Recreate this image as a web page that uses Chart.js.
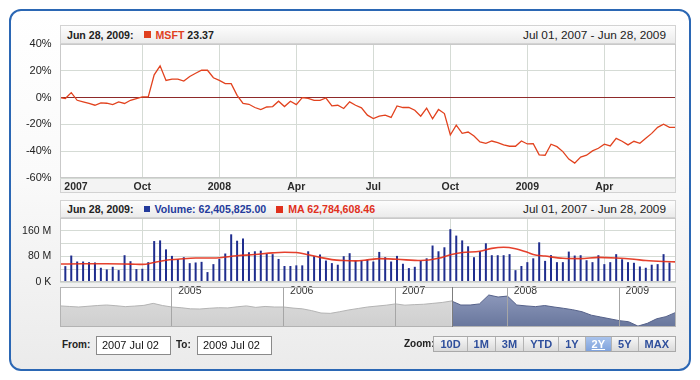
<!DOCTYPE html>
<html>
<head>
<meta charset="utf-8">
<script src="https://cdn.jsdelivr.net/npm/chart.js@4.4.1/dist/chart.umd.min.js"></script>
<style>
html,body{margin:0;padding:0;}
body{width:700px;height:380px;position:relative;overflow:hidden;background:#fff;font-family:"Liberation Sans",Arial,sans-serif;color:#222;}
#frame{position:absolute;left:9px;top:9px;width:682px;height:362px;box-sizing:border-box;border:2px solid #2b67b4;border-radius:12px;background:linear-gradient(#ffffff 0%,#fafafa 45%,#ebebeb 100%);}
canvas{position:absolute;left:0;}
.hdr{position:absolute;left:60px;width:616px;height:19px;box-sizing:border-box;border:1px solid #d3d3d3;background:linear-gradient(#fdfdfd,#ebebeb);display:flex;align-items:center;justify-content:space-between;padding:0 9px 0 6px;white-space:nowrap;}
.hdr .l{font-weight:bold;font-size:10.6px;display:flex;align-items:center;}
.hdr .r{font-size:11.8px;color:#222;}
.sq{display:inline-block;width:7px;height:7px;margin:0 5px 0 10px;}
.lbl{position:absolute;font-weight:bold;font-size:10px;color:#222;}
.box{position:absolute;top:336px;width:75px;height:19px;box-sizing:border-box;border:1px solid #8a8a8a;background:#fff;font-size:11px;line-height:17px;padding-left:5px;color:#111;}
#zoomBtns{position:absolute;right:24px;top:336px;height:16px;display:flex;box-sizing:border-box;border:1px solid #a9a9a9;}
#zoomBtns div{font-weight:bold;font-size:11px;line-height:14px;color:#2f4f9c;padding:0 6px;background:linear-gradient(#f7f7f7,#dadada);border-left:1px solid #b3b3b3;}
#zoomBtns div:first-child{border-left:none;}
#zoomBtns div.sel{background:linear-gradient(#a9c3ec,#7fa2dc);color:#fff;text-decoration:underline;}
</style>
</head>
<body>
<div id="frame"></div>

<div class="hdr" style="top:25px;">
  <span class="l"><span id="mDate"></span><i class="sq" style="background:#e0401e"></i><span style="color:#e0401e">MSFT</span>&nbsp;<span id="mVal"></span></span>
  <span class="r" id="mRange"></span>
</div>
<canvas id="mainChart" width="700" height="167" style="top:29px"></canvas>

<div class="hdr" style="top:200px;height:18px;">
  <span class="l"><span id="vDate"></span><i class="sq" style="background:#243b9c;width:6px;height:6px;"></i><span style="color:#243b9c" id="vVal"></span><i class="sq" style="background:#e0301c;"></i><span style="color:#e0301c" id="maVal"></span></span>
  <span class="r" id="vRange"></span>
</div>
<canvas id="volChart" width="700" height="94" style="top:203px"></canvas>
<canvas id="navChart" width="700" height="44" style="top:285px"></canvas>

<span class="lbl" style="left:62px;top:339px;">From:</span>
<div class="box" style="left:96px;" id="fromBox"></div>
<span class="lbl" style="left:176px;top:339px;">To:</span>
<div class="box" style="left:197px;" id="toBox"></div>
<span class="lbl" style="left:404px;top:338px;">Zoom:</span>
<div id="zoomBtns"></div>

<script>
// ---------------- DATA ----------------
const lastDateText = 'Jun 28, 2009:';
const rangeText = 'Jul 01, 2007 - Jun 28, 2009';
const lastClose = '23.37';
const lastVolume = '62,405,825.00';
const lastMA = '62,784,608.46';
const fromText = '2007 Jul 02';
const toText = '2009 Jul 02';
const zoomLabels = ['10D','1M','3M','YTD','1Y','2Y','5Y','MAX'];
const zoomSelected = '2Y';

// weekly points from Jul 01, 2007 to Jun 28, 2009 (% change)
const pctChange = [
  0, -0.7, 3.7, -2, -3.2, -4.4, -5.7, -4, -4.2, -5.2,
  -3.2, -4.4, -2, -0.7, 0.5, 0.5, 17, 23.7, 12.8, 13.8,
  13.8, 12.3, 15.8, 18.2, 20.4, 20.4, 14.8, 12.8, 10.4, 10.4,
  1.7, -4.4, -5, -7.4, -8.9, -7, -6.7, -2.7, -6.7, -2.7,
  -5.2, 0, -0.5, -2, -2, -0.3, -6.2, -5.7, -8.1, -3.2,
  -5.7, -7.6, -13.1, -15.6, -13.9, -13.1, -14.8, -6.2, -7.4, -7.4,
  -9.4, -13.9, -7.9, -15.8, -8.9, -11.9, -27.9, -20.5, -26.7, -25.7,
  -28.7, -33.1, -34.1, -32.4, -33.6, -35.3, -36.3, -36.3, -32.4, -34.6,
  -34.4, -42.7, -43, -34.8, -36.6, -40.3, -45.9, -48.9, -44.4, -43,
  -39.8, -37.8, -34.8, -36.1, -30.4, -32.6, -35.3, -32.6, -34.1, -30.4,
  -26.7, -22.2, -19.8, -22.2, -22.2
];
// weekly volume, millions
const volumeM = [
  null, 49.6, 82.7, 64, 64, 62, 61, 44.5, 39.3, 47.5,
  37.2, 83.7, 65, 40.3, 41.3, 62, 128, 130, 102, 81.6,
  71.3, 77.5, 58.9, 61, 63, 31, 55.8, 72, 89, 149,
  129, 136, 93, 96, 98, 88, 87, 72, 50, 50,
  52, 52, 96, 80.6, 86, 67, 59, 54, 80.6, 90,
  67, 67, 70, 64, 94, 77.5, 64, 81.6, 57, 43.4,
  47.5, 66, 74, 114, 96, 108.5, 165, 145, 130, 111.6,
  77.5, 96, 121, 83.7, 83.7, 83.7, 87, 37, 50, 62,
  74, 124, 66, 84, 62, 62, 95, 82.7, 83.7, 68,
  62, 83.7, 55.8, 62, 87, 71, 62, 60, 48.6, 44.5,
  54, 55.8, 87, 61, null
];
// moving average of volume (millions), read at these week indices
const maWeek = [0,4,8,12,14,16,18,20,23,26,30,33,36,38,40,42,44,46,48,50,52,54,57,61,64,66,68,71,73,75,77,79,80,82,85,88,91,94,97,99,102,104];
const maValue = [56,57,57,56,55,61,68,71,75,75,82,86,91,93,92,85,77,70,67,66,69,73,71,67,74,85,92,96,105,108.5,104,93,86,81,74,73,77,75,71,67,64,63];
// navigator: monthly close from Jan 2004 to Jun 2009
const navClose = [
  25.6, 25.3, 25.0, 25.4, 25.8, 26.1, 25.7, 25.2, 25.5, 25.9, 27.0, 25.8,
  25.0, 24.6, 24.0, 23.9, 24.3, 24.6, 24.5, 25.1, 25.6, 24.8, 25.3, 25.0,
  25.0, 24.4, 24.0, 23.0, 21.7, 21.5, 22.4, 23.4, 24.2, 25.0, 25.5, 26.0,
  26.7, 26.0, 26.3, 26.5, 27.0, 27.5, 28.3, 26.1, 26.1, 26.7, 31.6, 30.5,
  31.0, 26.1, 25.6, 25.2, 25.8, 25.0, 24.3, 23.5, 22.4, 20.5, 19.5, 18.5,
  17.5, 16.9, 14.5, 16.0, 18.5, 19.7, 21.9
];
const navStartYear = 2004;
const navSelStart = 2007.5;
const mainYTicks = [-60, -40, -20, 0, 20, 40];
const volYTicks = [0, 40, 80, 120, 160, 200];
const volYLabels = ['0 K', '', '80 M', '', '160 M', ''];
const monthNames = ['Jan','Feb','Mar','Apr','May','Jun','Jul','Aug','Sep','Oct','Nov','Dec'];

// ---------------- TEXT ----------------
document.getElementById('mDate').textContent = lastDateText;
document.getElementById('vDate').textContent = lastDateText;
document.getElementById('mVal').textContent = lastClose;
document.getElementById('vVal').textContent = 'Volume: ' + lastVolume;
document.getElementById('maVal').textContent = 'MA ' + lastMA;
document.getElementById('mRange').textContent = rangeText;
document.getElementById('vRange').textContent = rangeText;
document.getElementById('fromBox').textContent = fromText;
document.getElementById('toBox').textContent = toText;
const zb = document.getElementById('zoomBtns');
zoomLabels.forEach(z => { const d = document.createElement('div'); d.textContent = z; if (z === zoomSelected) d.className = 'sel'; zb.appendChild(d); });

// ---------------- CHARTS ----------------
Chart.defaults.font.family = '"Liberation Sans", Arial, sans-serif';
Chart.defaults.animation = false;
Chart.defaults.plugins.legend.display = false;
Chart.defaults.plugins.tooltip.enabled = false;

const gridCol = '#d5dbd5';
const weekDate = i => new Date(2007, 6, 1 + 7 * i);
const xTicks = [{ value: 2.8, label: '2007', hide: true }];
for (let i = 1; i < pctChange.length; i++) {
  const d = weekDate(i), p = weekDate(i - 1);
  if (d.getMonth() !== p.getMonth() && d.getMonth() % 3 === 0) {
    xTicks.push({ value: i, label: d.getMonth() === 0 ? String(d.getFullYear()) : monthNames[d.getMonth()] });
  }
}
const xMin = 0.1, xMax = 104.1;

function xScale(showLabels) {
  return {
    type: 'linear', min: xMin, max: xMax, offset: false,
    afterBuildTicks: s => { s.ticks = xTicks.map(t => ({ value: t.value })); },
    afterFit: s => { s.height = showLabels ? 16 : 0; },
    ticks: { display: showLabels, autoSkip: false, maxRotation: 0, padding: 3,
      font: { size: 10.5, weight: 'bold' }, color: '#2b2b2b',
      callback: (v, i) => xTicks[i] ? xTicks[i].label : '' },
    grid: { offset: false, drawTicks: false, color: c => (xTicks[c.index] && xTicks[c.index].hide) ? 'rgba(0,0,0,0)' : gridCol },
    border: { display: false }
  };
}

const plotFrame = {
  id: 'plotFrame',
  beforeDraw(chart, args, opts) {
    const { ctx, chartArea: a } = chart;
    ctx.save();
    ctx.fillStyle = '#ffffff';
    ctx.fillRect(a.left, a.top, a.right - a.left, a.bottom - a.top);
    if (opts.band) {
      ctx.fillStyle = '#f3f3f3';
      ctx.fillRect(a.left, a.bottom, a.right - a.left, opts.band);
      ctx.strokeStyle = '#d2d2d2'; ctx.lineWidth = 1;
      ctx.strokeRect(a.left + 0.5, a.bottom + 0.5, a.right - a.left - 1, opts.band - 1);
    }
    ctx.restore();
  },
  afterDraw(chart, args, opts) {
    const { ctx, chartArea: a } = chart;
    ctx.save();
    ctx.strokeStyle = opts.color || '#c9c9c9'; ctx.lineWidth = 1;
    ctx.strokeRect(a.left + 0.5, a.top + 0.5, a.right - a.left - 1, a.bottom - a.top - 1);
    if (opts.selStart !== undefined) {
      const x = Math.round(chart.scales.x.getPixelForValue(opts.selStart)) + 0.5;
      ctx.strokeStyle = '#7d7d7d';
      ctx.beginPath(); ctx.moveTo(x, a.top); ctx.lineTo(x, a.bottom); ctx.stroke();
    }
    ctx.restore();
  }
};

// main price chart
new Chart(document.getElementById('mainChart'), {
  type: 'line',
  data: { datasets: [{
    data: pctChange.map((v, i) => ({ x: i, y: v })),
    borderColor: '#e2421e', borderWidth: 1.3, pointRadius: 0, tension: 0, fill: false
  }] },
  options: {
    responsive: false, devicePixelRatio: 1,
    layout: { padding: { top: 0, bottom: 2, left: 0, right: 24 } },
    scales: {
      x: xScale(true),
      y: {
        min: -60, max: 40,
        afterBuildTicks: s => { s.ticks = mainYTicks.map(v => ({ value: v })); },
        afterFit: s => { s.width = 60; },
        ticks: { padding: 8.4, font: { size: 11 }, color: '#222', callback: v => v + '%' },
        grid: { drawTicks: false, color: c => (c.tick && c.tick.value === 0) ? '#8e2a2a' : gridCol },
        border: { display: false }
      }
    },
    plugins: { plotFrame: { band: 15 } }
  },
  plugins: [plotFrame]
});

// volume chart
new Chart(document.getElementById('volChart'), {
  data: { datasets: [
    { type: 'line', data: maWeek.map((w, j) => ({ x: w, y: maValue[j] })),
      borderColor: 'rgba(226,44,22,0.9)', borderWidth: 1.6, pointRadius: 0,
      cubicInterpolationMode: 'monotone', fill: false, order: 0 },
    { type: 'bar', data: volumeM.map((v, i) => ({ x: i, y: v })),
      backgroundColor: '#1f2d8e', barThickness: 2, inflateAmount: 0, borderWidth: 0, order: 1 }
  ] },
  options: {
    responsive: false, devicePixelRatio: 1,
    layout: { padding: { top: 0, bottom: 0, left: 0, right: 24 } },
    scales: {
      x: xScale(false),
      y: {
        min: 0, max: 200,
        afterBuildTicks: s => { s.ticks = volYTicks.map(v => ({ value: v })); },
        afterFit: s => { s.width = 60; },
        ticks: { padding: 8.7, font: { size: 10.5 }, color: '#222', callback: (v, i) => volYLabels[i] },
        grid: { drawTicks: false, color: gridCol },
        border: { display: false }
      }
    },
    plugins: { plotFrame: {} }
  },
  plugins: [plotFrame]
});

// navigator
const navPts = navClose.map((v, i) => ({ x: navStartYear + i / 12, y: v }));
function grad(c0, c1) {
  return ctx => {
    const a = ctx.chart.chartArea;
    if (!a) return c0;
    const g = ctx.chart.ctx.createLinearGradient(0, a.top, 0, a.bottom);
    g.addColorStop(0, c0); g.addColorStop(1, c1);
    return g;
  };
}
new Chart(document.getElementById('navChart'), {
  type: 'line',
  data: { datasets: [
    { data: navPts.filter(p => p.x <= navSelStart + 1e-6), borderColor: '#b4b4b4', borderWidth: 1,
      backgroundColor: grad('#dedede', '#cfcfcf'), fill: 'start', pointRadius: 0, tension: 0 },
    { data: navPts.filter(p => p.x >= navSelStart - 1e-6), borderColor: '#56628a', borderWidth: 1,
      backgroundColor: grad('#95a0c2', '#68769c'), fill: 'start', pointRadius: 0, tension: 0 }
  ] },
  options: {
    responsive: false, devicePixelRatio: 1,
    layout: { padding: { top: 2, bottom: 2, left: 60, right: 24 } },
    scales: {
      x: {
        type: 'linear', position: 'top', min: navStartYear, max: 2009.507,
        afterBuildTicks: s => { const t = []; for (let y = navStartYear + 1; y <= 2009; y++) t.push({ value: y }); s.ticks = t; },
        afterFit: s => { s.height = 0; },
        ticks: { autoSkip: false, maxRotation: 0, mirror: true, padding: -2, labelOffset: 18, font: { size: 10.5 }, color: '#333', callback: v => String(v), z: 2 },
        grid: { drawTicks: false, color: '#a6a6a6', z: 1 },
        border: { display: false }
      },
      y: { display: false, min: 14, max: 36 }
    },
    plugins: { plotFrame: { color: '#b3b3b3', selStart: navSelStart } }
  },
  plugins: [plotFrame]
});
</script>
</body>
</html>
